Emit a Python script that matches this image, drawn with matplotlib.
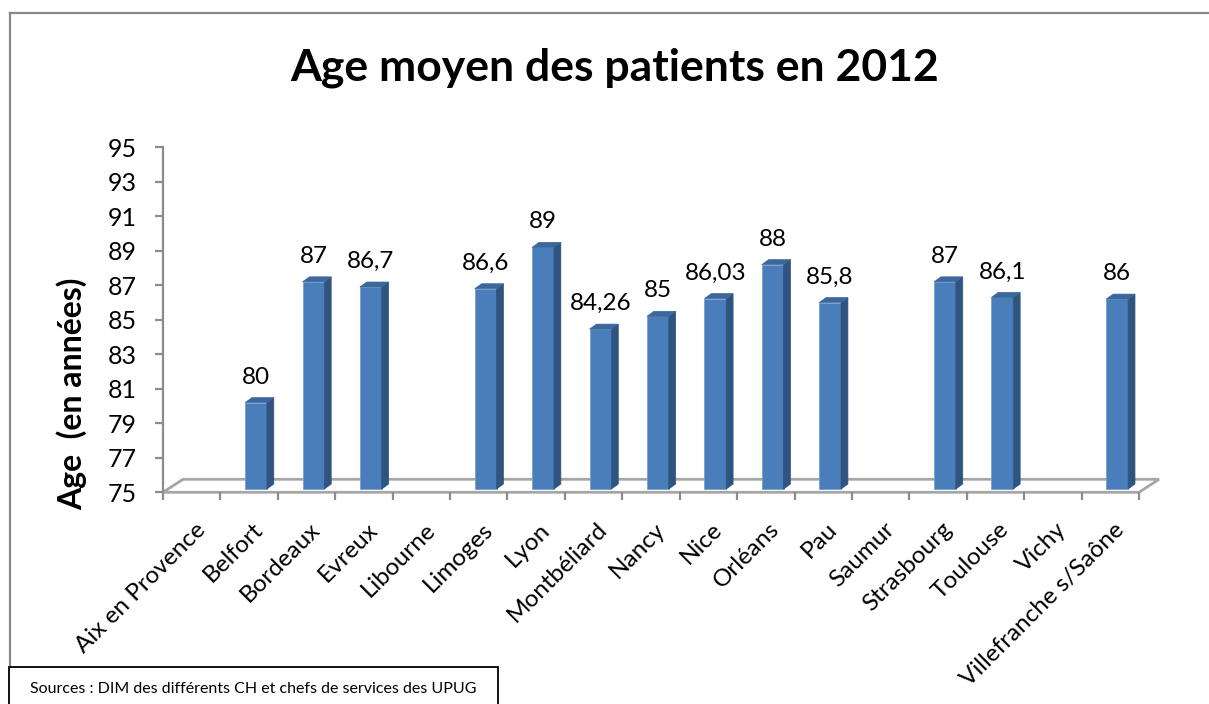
import numpy as np
import matplotlib.pyplot as plt
from matplotlib.patches import Rectangle, Polygon
from matplotlib.lines import Line2D

plt.rcParams['font.family'] = ['Lato', 'DejaVu Sans']

# data
villes = ['Aix en Provence', 'Belfort', 'Bordeaux', 'Evreux', 'Libourne', 'Limoges',
          'Lyon', 'Montbéliard', 'Nancy', 'Nice', 'Orléans', 'Pau', 'Saumur',
          'Strasbourg', 'Toulouse', 'Vichy', 'Villefranche s/Saône']
ages = [None, 80, 87, 86.7, None, 86.6, 89, 84.26, 85, 86.03, 88, 85.8, None,
        87, 86.1, None, 86]
yticks = list(range(75, 96, 2))

W, H = 1209, 704
fig = plt.figure(figsize=(W / 100, H / 100), dpi=100)
ax = fig.add_axes([163 / W, 1 - 492.3 / H, 976 / W, 345 / H])
ax.set_xlim(0, len(villes))
ax.set_ylim(75, 95)

grey = '#8c8c8c'
# floor (3D look)
fdx, fdy = 20 / 57.4, 13 / 17.25
n = len(villes)
floor = Polygon([(0, 75), (n, 75), (n + fdx, 75 + fdy), (fdx, 75 + fdy)], closed=True,
                facecolor='white', edgecolor='#a6a6a6', lw=2, clip_on=False, zorder=1)
ax.add_patch(floor)

# bars
bw = 0.38
sdx, sdy = 0.12, 0.29
front_c, side_c, top_c = '#4a7ebb', '#2f5480', '#3c679d'
for i, v in enumerate(ages):
    if v is None:
        continue
    x0 = i + 0.43
    y0 = 75.19
    y1 = v + 0.2
    ax.add_patch(Rectangle((x0, y0), bw, y1 - y0, facecolor=front_c,
                           edgecolor='#7aa0d0', lw=0.6, zorder=3, clip_on=False))
    ax.add_patch(Polygon([(x0 + bw, y0), (x0 + bw + sdx, y0 + sdy),
                          (x0 + bw + sdx, y1 + sdy), (x0 + bw, y1)],
                         facecolor=side_c, edgecolor=side_c, lw=0.5, zorder=3, clip_on=False))
    ax.add_patch(Polygon([(x0, y1), (x0 + sdx, y1 + sdy), (x0 + bw + sdx, y1 + sdy),
                          (x0 + bw, y1)],
                         facecolor=top_c, edgecolor=top_c, lw=0.5, zorder=3, clip_on=False))
    lab = ('%g' % v).replace('.', ',')
    ax.annotate(lab, xy=(i + 0.62, y1), xytext=(0, 13.7), textcoords='offset points',
                ha='center', va='baseline', fontsize=17.5, color='black')

# axes styling
for s in ['top', 'right', 'bottom']:
    ax.spines[s].set_visible(False)
ax.spines['left'].set_color(grey)
ax.spines['left'].set_linewidth(1.6)
ax.set_yticks(yticks)
ax.set_yticklabels([str(t) for t in yticks], fontsize=18)
ax.tick_params(axis='y', length=6, width=1.6, color=grey, pad=13)
ax.set_xticks(np.arange(0, n + 1))
ax.set_xticklabels([])
ax.tick_params(axis='x', length=6, width=1.6, color=grey)
ax.set_facecolor('none')

for i, name in enumerate(villes):
    ax.annotate(name, xy=(i + 0.55, 75), xytext=(0, -19), textcoords='offset points',
                rotation=45, rotation_mode='anchor', ha='right', va='top', fontsize=17.5)

fig.text(615 / W, 1 - 68 / H, 'Age moyen des patients en 2012', ha='center', va='center',
         fontsize=32, fontweight='bold')
fig.text(72 / W, 1 - 510 / H, 'Age  (en années)', ha='center', va='bottom',
         rotation=90, fontsize=23, fontweight='bold')

# outer frame
fig.add_artist(Line2D([10 / W, 1], [1 - 13 / H, 1 - 13 / H], color='#878787', lw=1.6))
fig.add_artist(Line2D([10 / W, 10 / W], [0, 1 - 13 / H], color='#878787', lw=1.6))

# source box
fig.add_artist(Rectangle((9 / W, -0.01), 489 / W, (704 - 667) / H + 0.01,
                         transform=fig.transFigure, facecolor='white', edgecolor='black',
                         lw=1.3, zorder=5))
fig.text(30 / W, 1 - 689 / H, 'Sources : DIM des différents CH et chefs de services des UPUG',
         ha='left', va='center', fontsize=11.5, zorder=6)

fig.savefig('out.png', dpi=100)
